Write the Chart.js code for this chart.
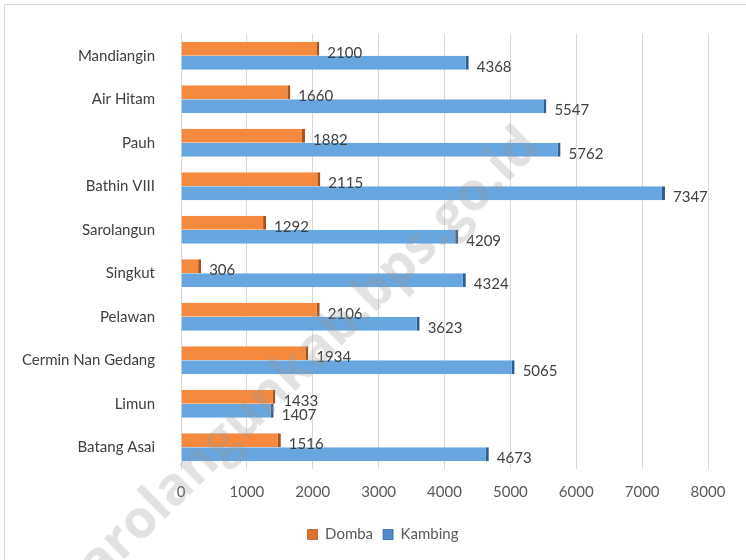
<!DOCTYPE html>
<html>
<head>
<meta charset="utf-8">
<script src="https://cdn.jsdelivr.net/npm/chart.js@4.4.1/dist/chart.umd.min.js"></script>
<style>
  html, body { margin: 0; padding: 0; background: #fff; }
  #wrap { position: relative; width: 746px; height: 560px; overflow: hidden; }
  #frame { position: absolute; left: 4px; top: 4px; width: 800px; height: 600px; border: 1px solid #d9dde3; box-sizing: border-box; }
  canvas { position: absolute; left: 0; top: 0; }
  #wm { position: absolute; font: bold 53px "Open Sans", sans-serif; color: rgba(150,150,150,0.28);
        transform: rotate(-44.5deg); transform-origin: 0 0; white-space: nowrap; pointer-events: none; }
</style>
</head>
<body>
<div id="wrap">
  <div id="frame"></div>
  <canvas id="c" width="746" height="560"></canvas>
  <div id="wm" style="left:40px; top:562px;">sarolangunkab.bps.go.id</div>
</div>
<script>
const categories = ["Mandiangin", "Air Hitam", "Pauh", "Bathin VIII", "Sarolangun", "Singkut", "Pelawan", "Cermin Nan Gedang", "Limun", "Batang Asai"];
const domba   = [2100, 1660, 1882, 2115, 1292, 306, 2106, 1934, 1433, 1516];
const kambing = [4368, 5547, 5762, 7347, 4209, 4324, 3623, 5065, 1407, 4673];
const xTicks  = [0, 1000, 2000, 3000, 4000, 5000, 6000, 7000, 8000];

const FONT = "Lato, 'Open Sans', sans-serif";

const labelPlugin = {
  id: 'valueLabels',
  afterDatasetsDraw(chart) {
    const ctx = chart.ctx;
    ctx.save();
    ctx.font = "15px " + FONT;
    ctx.fillStyle = "#404040";
    ctx.textBaseline = "middle";
    ctx.textAlign = "left";
    chart.data.datasets.forEach((ds, i) => {
      const meta = chart.getDatasetMeta(i);
      meta.data.forEach((bar, j) => {
        ctx.fillText(String(ds.data[j]), bar.x + 8, bar.y + 4);
      });
    });
    ctx.restore();
  }
};

const legendShift = {
  id: 'legendShift',
  afterLayout(chart) {
    const lg = chart.legend;
    if (lg) { lg.left += 29; lg.right += 29; }
  }
};

function grad(c1, c2, c3) {
  return function(context) {
    const el = context.element;
    const { ctx } = context.chart;
    if (!el || el.y === undefined) return c2;
    const h = el.height || 14;
    const g = ctx.createLinearGradient(0, el.y - h/2, 0, el.y + h/2);
    g.addColorStop(0, c1);
    g.addColorStop(0.2, c1);
    g.addColorStop(0.25, c2);
    g.addColorStop(1, c3);
    return g;
  };
}

new Chart(document.getElementById('c'), {
  type: 'bar',
  data: {
    labels: categories,
    datasets: [
      { label: 'Domba', data: domba, backgroundColor: grad('#d06a2c', '#f5893e', '#e2702a'), borderColor: '#a8531c', borderWidth: {top:0,left:0,bottom:0,right:3}, borderSkipped: false },
      { label: 'Kambing', data: kambing, backgroundColor: grad('#5088c0', '#68a6e0', '#4f8cc9'), borderColor: '#2f5f8f', borderWidth: {top:0,left:0,bottom:0,right:3}, borderSkipped: false }
    ]
  },
  options: {
    indexAxis: 'y',
    responsive: false,
    animation: false,
    layout: { padding: { top: 34, right: 38, bottom: 8, left: 0 } },
    datasets: { bar: { categoryPercentage: 0.64, barPercentage: 1.0 } },
    scales: {
      x: {
        min: 0, max: 8000,
        afterBuildTicks(scale) { scale.ticks = xTicks.map(v => ({ value: v })); },
        afterFit(scale) { scale.height = 48; },
        grid: { color: '#d9d9d9', drawTicks: false },
        border: { display: false },
        ticks: { padding: 14, color: '#595959', font: { family: FONT, size: 15 }, callback: (v) => String(v) }
      },
      y: {
        afterFit(scale) { scale.width = 181; },
        grid: { display: false },
        border: { color: '#d9d9d9' },
        ticks: { padding: 18, color: '#404040', font: { family: FONT, size: 15 } }
      }
    },
    plugins: {
      legend: {
        position: 'bottom',
        labels: { boxWidth: 10, boxHeight: 10, padding: 10, color: '#595959', font: { family: FONT, size: 15 } }
      },
      tooltip: { enabled: false }
    }
  },
  plugins: [labelPlugin, legendShift]
});
</script>
</body>
</html>
